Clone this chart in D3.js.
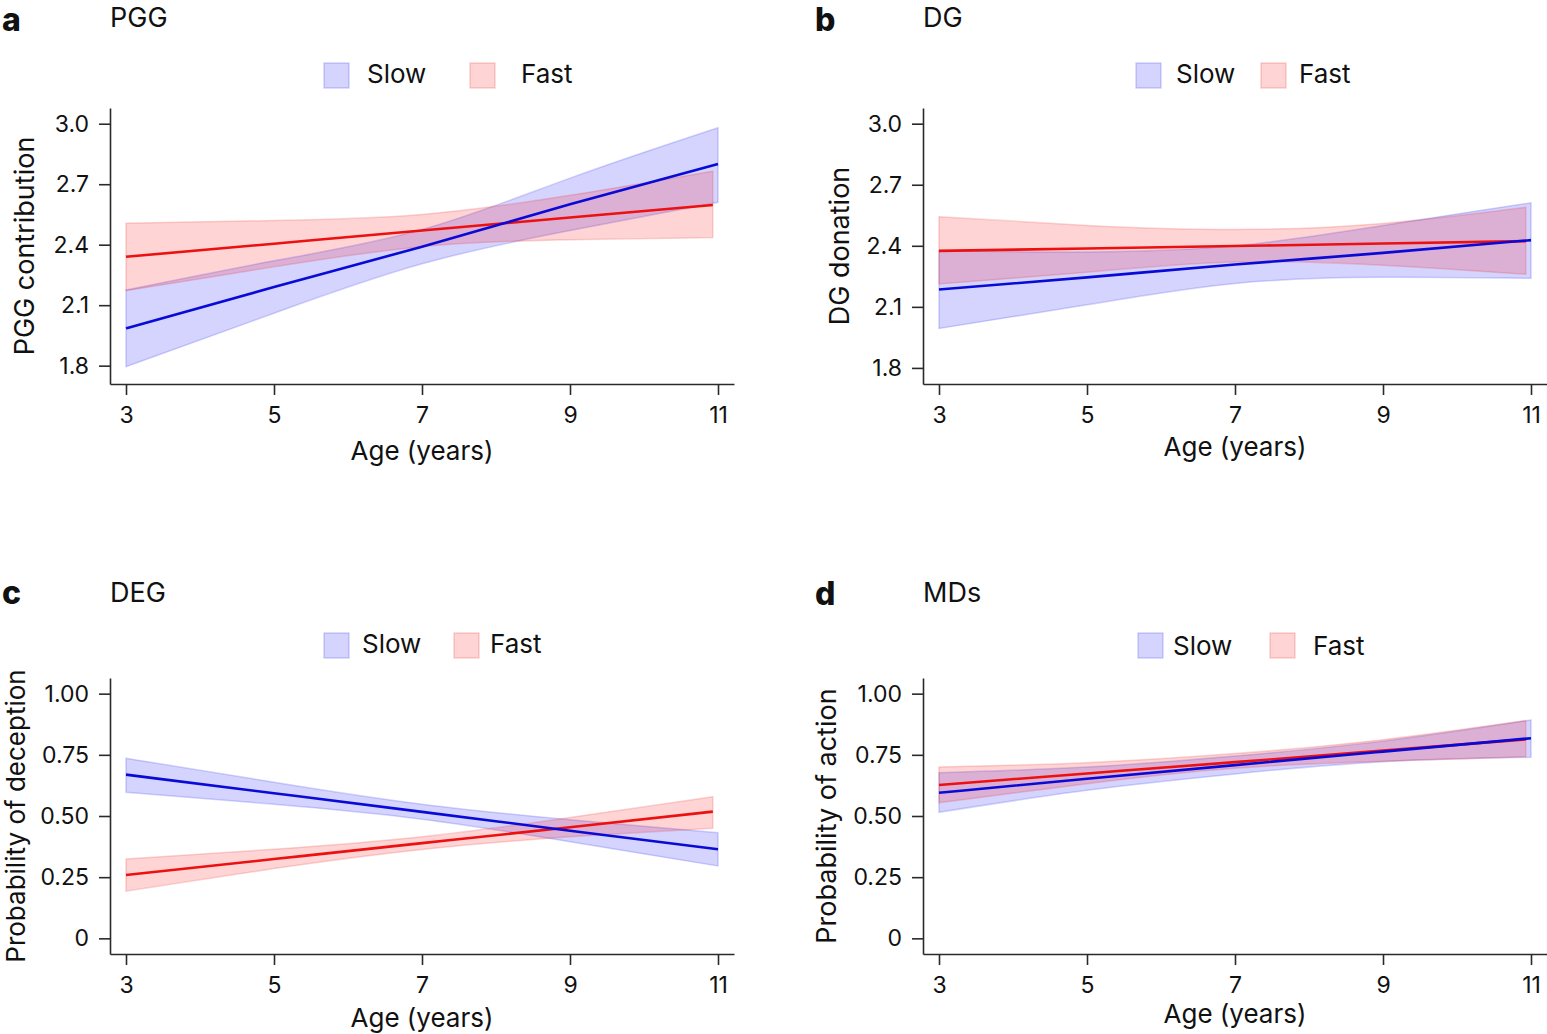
<!DOCTYPE html>
<html>
<head>
<meta charset="utf-8">
<script src="https://cdn.jsdelivr.net/npm/d3@7"></script>
<style>
  body { margin: 0; background: #fff; }
  svg text { font-family: Inter, "Noto Sans", sans-serif; fill: #111; }
</style>
</head>
<body>
<svg id="chart" width="1547" height="1034"></svg>
<script>
var agesSlow = [3, 5, 7, 9, 11];
var agesFast = [3, 5, 7, 9, 10.93];
var ageTicks = [3, 5, 7, 9, 11];

var scoreTicks = [1.8, 2.1, 2.4, 2.7, 3.0];
var probTicks = [0, 0.25, 0.5, 0.75, 1];

var groups = ["Slow", "Fast"];

// a  PGG
var pggSlowFit = [1.985, 2.19, 2.39, 2.60, 2.80];
var pggSlowLo  = [1.795, 2.06, 2.305, 2.47, 2.61];
var pggSlowHi  = [2.175, 2.32, 2.475, 2.73, 2.98];
var pggFastFit = [2.34, 2.405, 2.47, 2.535, 2.597];
var pggFastLo  = [2.172, 2.29, 2.39, 2.425, 2.435];
var pggFastHi  = [2.506, 2.52, 2.55, 2.645, 2.765];

// b  DG
var dgSlowFit = [2.185, 2.245, 2.308, 2.365, 2.428];
var dgSlowLo  = [1.994, 2.11, 2.215, 2.245, 2.24];
var dgSlowHi  = [2.376, 2.37, 2.40, 2.50, 2.611];
var dgFastFit = [2.375, 2.387, 2.399, 2.411, 2.423];
var dgFastLo  = [2.212, 2.27, 2.32, 2.305, 2.26];
var dgFastHi  = [2.543, 2.50, 2.48, 2.51, 2.589];

// c  DEG
var degSlowFit = [0.669, 0.593, 0.517, 0.44, 0.364];
var degSlowLo  = [0.597, 0.548, 0.487, 0.395, 0.296];
var degSlowHi  = [0.736, 0.638, 0.548, 0.485, 0.432];
var degFastFit = [0.259, 0.324, 0.389, 0.454, 0.518];
var degFastLo  = [0.193, 0.285, 0.363, 0.415, 0.45];
var degFastHi  = [0.324, 0.364, 0.415, 0.494, 0.579];

// d  MDs
var mdSlowFit = [0.595, 0.652, 0.708, 0.763, 0.818];
var mdSlowLo  = [0.515, 0.605, 0.672, 0.722, 0.74];
var mdSlowHi  = [0.677, 0.70, 0.745, 0.806, 0.892];
var mdFastFit = [0.627, 0.674, 0.72, 0.767, 0.813];
var mdFastLo  = [0.554, 0.632, 0.695, 0.724, 0.742];
var mdFastHi  = [0.70, 0.718, 0.755, 0.812, 0.89];

function rows(ages, fit, lo, hi) {
  return ages.map(function(a, i) { return {age: a, fit: fit[i], lo: lo[i], hi: hi[i]}; });
}

var fmt1 = d3.format(".1f");
var fmtP = function(v) { return v === 0 ? "0" : d3.format(".2f")(v); };

var panels = [
  {letter: "a", title: "PGG", ylab: "PGG contribution",
   left: 110, right: 734, top: 108, bottom: 384, yDom: [1.709, 3.078], ticks: scoreTicks, fmt: fmt1,
   slow: rows(agesSlow, pggSlowFit, pggSlowLo, pggSlowHi), fast: rows(agesFast, pggFastFit, pggFastLo, pggFastHi),
   letterPos: [2, 31], titlePos: [110, 27], ylabPos: [34, 246], xlabPos: [422, 460],
   leg: [324, 367, 470, 521, 63, 83]},
  {letter: "b", title: "DG", ylab: "DG donation",
   left: 923, right: 1547, top: 108, bottom: 384, yDom: [1.721, 3.077], ticks: scoreTicks, fmt: fmt1,
   slow: rows(agesSlow, dgSlowFit, dgSlowLo, dgSlowHi), fast: rows(agesFast, dgFastFit, dgFastLo, dgFastHi),
   letterPos: [815, 31], titlePos: [923, 27], ylabPos: [849, 246], xlabPos: [1235, 456],
   leg: [1136, 1176, 1261, 1299, 63, 83]},
  {letter: "c", title: "DEG", ylab: "Probability of deception",
   left: 110, right: 734, top: 678, bottom: 954, yDom: [-0.064, 1.064], ticks: probTicks, fmt: fmtP,
   slow: rows(agesSlow, degSlowFit, degSlowLo, degSlowHi), fast: rows(agesFast, degFastFit, degFastLo, degFastHi),
   letterPos: [2, 604], titlePos: [110, 602], ylabPos: [25, 816], xlabPos: [422, 1027],
   leg: [324, 362, 454, 490, 633, 653], ylabSize: 26},
  {letter: "d", title: "MDs", ylab: "Probability of action",
   left: 923, right: 1547, top: 678, bottom: 954, yDom: [-0.064, 1.064], ticks: probTicks, fmt: fmtP,
   slow: rows(agesSlow, mdSlowFit, mdSlowLo, mdSlowHi), fast: rows(agesFast, mdFastFit, mdFastLo, mdFastHi),
   letterPos: [815, 605], titlePos: [923, 602], ylabPos: [836, 816], xlabPos: [1235, 1023],
   leg: [1138, 1173, 1270, 1313, 633, 655]}
];

var colors = {Slow: {line: "#0a0ad6", fill: "rgba(0,0,255,0.17)", edge: "rgba(60,60,230,0.22)"},
              Fast: {line: "#ec1010", fill: "rgba(255,0,0,0.17)", edge: "rgba(230,60,60,0.22)"}};

var svg = d3.select("#chart");

panels.forEach(function(p) {
  var g = svg.append("g");
  // pad the age domain so the axis line runs a bit past 3 and 11
  var x = d3.scaleLinear().domain([3 - 16 / 74, 11 + 16 / 74]).range([p.left, p.right]);
  var y = d3.scaleLinear().domain(p.yDom).range([p.bottom, p.top]);

  var area = d3.area().curve(d3.curveNatural)
    .x(function(d) { return x(d.age); })
    .y0(function(d) { return y(d.lo); })
    .y1(function(d) { return y(d.hi); });
  var line = d3.line().curve(d3.curveNatural)
    .x(function(d) { return x(d.age); })
    .y(function(d) { return y(d.fit); });

  [["Slow", p.slow], ["Fast", p.fast]].forEach(function(s) {
    g.append("path").datum(s[1]).attr("d", area)
      .attr("fill", colors[s[0]].fill)
      .attr("stroke", colors[s[0]].edge).attr("stroke-width", 1.5);
  });
  [["Fast", p.fast], ["Slow", p.slow]].forEach(function(s) {
    g.append("path").datum(s[1]).attr("d", line)
      .attr("fill", "none").attr("stroke", colors[s[0]].line).attr("stroke-width", 2.6);
  });

  var xAxis = g.append("g").attr("transform", "translate(0," + p.bottom + ")")
    .call(d3.axisBottom(x).tickValues(ageTicks).tickSize(11).tickPadding(12).tickSizeOuter(0).tickFormat(d3.format("d")));
  var yAxis = g.append("g").attr("transform", "translate(" + p.left + ",0)")
    .call(d3.axisLeft(y).tickValues(p.ticks).tickSize(11).tickPadding(10).tickSizeOuter(0).tickFormat(p.fmt));
  [xAxis, yAxis].forEach(function(ax) {
    ax.selectAll("path, line").attr("stroke", "#2a2a2a").attr("stroke-width", 1.6);
    ax.selectAll("text").attr("font-size", 23).attr("font-family", "Inter, sans-serif").attr("fill", "#111");
  });

  g.append("text").attr("x", p.letterPos[0]).attr("y", p.letterPos[1])
    .attr("font-size", 32).attr("font-weight", 800).text(p.letter);
  g.append("text").attr("x", p.titlePos[0]).attr("y", p.titlePos[1])
    .attr("font-size", 27).text(p.title);
  g.append("text").attr("x", p.xlabPos[0]).attr("y", p.xlabPos[1])
    .attr("text-anchor", "middle").attr("font-size", 26).text("Age (years)");
  g.append("text")
    .attr("transform", "translate(" + p.ylabPos[0] + "," + p.ylabPos[1] + ") rotate(-90)")
    .attr("text-anchor", "middle").attr("font-size", p.ylabSize || 27).text(p.ylab);

  // legend
  var L = p.leg;
  groups.forEach(function(name, i) {
    var sx = i === 0 ? L[0] : L[2];
    var tx = i === 0 ? L[1] : L[3];
    g.append("rect").attr("x", sx).attr("y", L[4]).attr("width", 25).attr("height", 25)
      .attr("fill", colors[name].fill).attr("stroke", colors[name].edge).attr("stroke-width", 1.5);
    g.append("text").attr("x", tx).attr("y", L[5]).attr("font-size", 26).text(name);
  });
});
</script>
</body>
</html>
